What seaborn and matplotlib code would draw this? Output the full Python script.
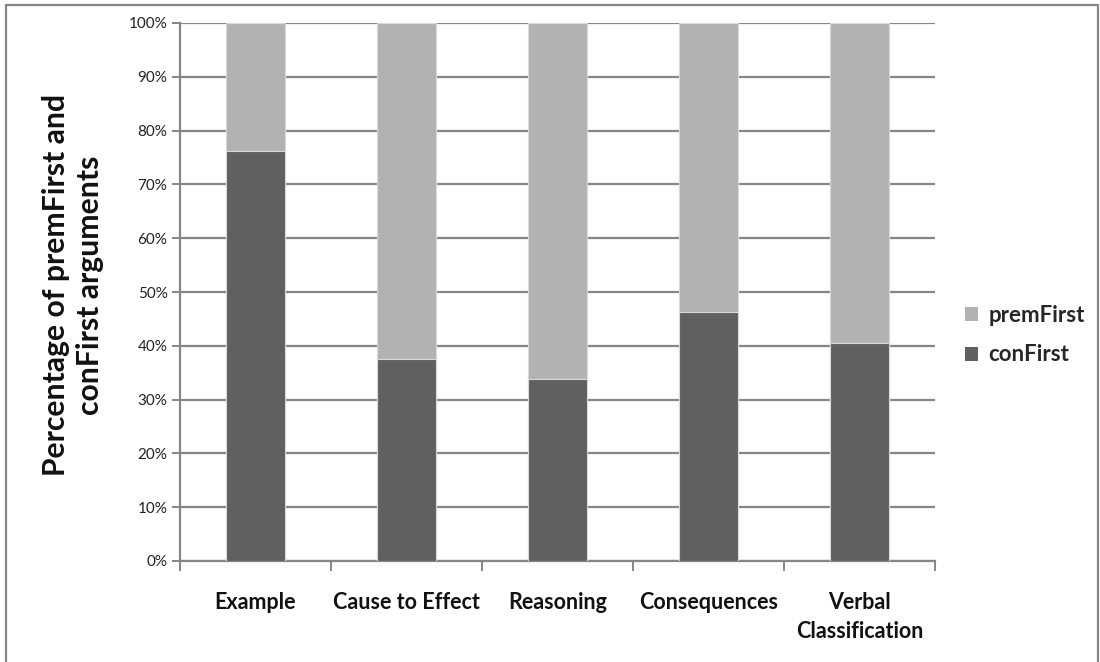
import matplotlib
matplotlib.use("Agg")
import matplotlib.pyplot as plt
import seaborn as sns
import pandas as pd
from matplotlib.patches import Rectangle, Patch
from matplotlib.ticker import FuncFormatter

categories = ["Example", "Cause to Effect", "Reasoning", "Consequences", "Verbal\nClassification"]
conFirst = [76.2, 37.5, 33.8, 46.2, 40.6]
premFirst = [23.8, 62.5, 66.2, 53.8, 59.4]
series_names = ["premFirst", "conFirst"]
colors = {"premFirst": "#b2b2b2", "conFirst": "#606060"}

sns.set_theme(style="white")
plt.rcParams['font.family'] = ['Lato', 'DejaVu Sans']

df = pd.DataFrame({"category": categories, "conFirst": conFirst, "premFirst": premFirst})
df["top"] = df["conFirst"] + df["premFirst"]

fig = plt.figure(figsize=(11, 6.62), dpi=100)
ax = fig.add_axes([180/1100, 101/662, (935-180)/1100, (561-23)/662])

sns.barplot(data=df, x="category", y="top", color=colors["premFirst"], saturation=1,
            width=0.39, edgecolor="#d9d9d9", linewidth=0.8, ax=ax, zorder=3)
sns.barplot(data=df, x="category", y="conFirst", color=colors["conFirst"], saturation=1,
            width=0.39, edgecolor="#d9d9d9", linewidth=0.8, ax=ax, zorder=4)

ax.set_ylim(0, 100)
ax.set_xlim(-0.5, len(categories) - 0.5)
ax.set_yticks(range(0, 101, 10))
ax.yaxis.set_major_formatter(FuncFormatter(lambda v, p: f"{int(v)}%"))
ax.grid(axis="y", color="#868686", linewidth=1.6, zorder=0)
ax.grid(axis="x", visible=False)
ax.set_axisbelow(True)

for s in ["top", "right"]:
    ax.spines[s].set_visible(False)
for s in ["left", "bottom"]:
    ax.spines[s].set_color("#868686")
    ax.spines[s].set_linewidth(1.6)

ax.tick_params(axis="y", which="major", direction="out", length=6, width=1.4, color="#868686",
               labelsize=11, labelcolor="#222222", pad=3, left=True)
# x ticks at category boundaries
ax.set_xticks([i - 0.5 for i in range(len(categories) + 1)], minor=True)
ax.tick_params(axis="x", which="minor", direction="out", length=7, width=1.4, color="#868686", bottom=True)
ax.tick_params(axis="x", which="major", length=0, labelsize=15.5, pad=22)
ax.set_xticks(range(len(categories)))
ax.set_xticklabels(categories, fontweight="bold", color="#111111", linespacing=1.5)

ax.set_xlabel("")
ax.set_ylabel("Percentage of premFirst and\nconFirst arguments", fontsize=21.7, fontweight="bold",
              color="#111111", linespacing=1.3)
ax.yaxis.set_label_coords(-0.1, 0.513)

handles = [Patch(facecolor=colors[n], edgecolor="none") for n in series_names]
leg = fig.legend(handles, series_names, loc="center left", bbox_to_anchor=(945/1100, 327/662),
                 frameon=False, prop={"weight": "bold", "size": 16}, handlelength=0.6,
                 handleheight=0.6, handletextpad=0.45, labelspacing=0.85)

fig.patches.append(Rectangle((6/1100, -0.05), (1098-6)/1100, 1.05 - 5/662, transform=fig.transFigure,
                             fill=False, edgecolor="#868686", linewidth=1.6))

fig.savefig("out.png", dpi=100, facecolor="white")
